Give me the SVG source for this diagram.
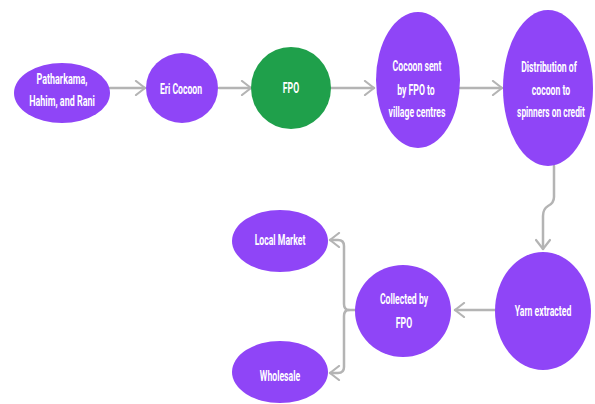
<svg xmlns="http://www.w3.org/2000/svg" width="595" height="404" viewBox="0 0 595 404">
<defs>
<style>
.n{fill:#8f45f7}
.g{fill:#1fa04b}
.t{fill:#ffffff;font-family:"Roboto","Liberation Sans",sans-serif;font-weight:bold;font-size:14px;text-anchor:middle}
.c{fill:none;stroke:#b4b4b4;stroke-width:2.5;stroke-linecap:round;stroke-linejoin:round}
</style>
<marker id="ah" viewBox="0 0 12 16" refX="11" refY="8" markerWidth="12" markerHeight="16" markerUnits="userSpaceOnUse" orient="auto">
<path d="M2,1 L11,8 L2,15" fill="none" stroke="#b4b4b4" stroke-width="2.2" stroke-linecap="round" stroke-linejoin="round"/>
</marker>
</defs>
<rect width="595" height="404" fill="#ffffff"/>
<g id="connectors">
<path class="c" d="M110,88 L145,88" marker-end="url(#ah)"/>
<path class="c" d="M219,88 L251,88" marker-end="url(#ah)"/>
<path class="c" d="M330,88 L374,88" marker-end="url(#ah)"/>
<path class="c" d="M460,88 L502,88" marker-end="url(#ah)"/>
<path class="c" d="M554,166 L554,197 Q554,203 548,206 Q543,209 543,216 L543,249" marker-end="url(#ah)"/>
<path class="c" d="M495,310 L455,310" marker-end="url(#ah)"/>
<path class="c" d="M355,310 L349,310 Q344,310 344,304 L344,246 Q344,240 338,240 L330,240" marker-end="url(#ah)"/>
<path class="c" d="M349,310 Q344,310 344,316 L344,367 Q344,373 338,373 L330,373" marker-end="url(#ah)"/>
</g>
<g id="n1"><ellipse class="n" cx="62" cy="93" rx="48" ry="30"/><text class="t" transform="matrix(0.64,0,0,1,62,0)" x="0" y="84">Patharkama,</text><text class="t" transform="matrix(0.64,0,0,1,62,0)" x="0" y="106">Hahim, and Rani</text></g>
<g id="n2"><ellipse class="n" cx="182" cy="88" rx="36" ry="35"/><text class="t" transform="matrix(0.62,0,0,1,181,0)" x="0" y="94">Eri Cocoon</text></g>
<g id="n3"><ellipse class="g" cx="291" cy="88" rx="40" ry="41"/><text class="t" transform="matrix(0.62,0,0,1,291,0)" x="0" y="93">FPO</text></g>
<g id="n4"><ellipse class="n" cx="418" cy="80" rx="42" ry="68"/><text class="t" transform="matrix(0.62,0,0,1,417,0)" x="0" y="71">Cocoon sent</text><text class="t" transform="matrix(0.62,0,0,1,416,0)" x="0" y="95">by FPO to</text><text class="t" transform="matrix(0.62,0,0,1,417,0)" x="0" y="117">village centres</text></g>
<g id="n5"><ellipse class="n" cx="548" cy="88" rx="45" ry="78"/><text class="t" transform="matrix(0.62,0,0,1,549,0)" x="0" y="72">Distribution of</text><text class="t" transform="matrix(0.62,0,0,1,551,0)" x="0" y="95">cocoon to</text><text class="t" transform="matrix(0.6,0,0,1,551,0)" x="0" y="117">spinners on credit</text></g>
<g id="n6"><ellipse class="n" cx="543" cy="311" rx="48" ry="59"/><text class="t" transform="matrix(0.62,0,0,1,543,0)" x="0" y="316">Yarn extracted</text></g>
<g id="n7"><ellipse class="n" cx="403" cy="311" rx="48" ry="46"/><text class="t" transform="matrix(0.62,0,0,1,404,0)" x="0" y="304">Collected by</text><text class="t" transform="matrix(0.62,0,0,1,404,0)" x="0" y="328">FPO</text></g>
<g id="n8"><ellipse class="n" cx="280" cy="241" rx="48" ry="31"/><text class="t" transform="matrix(0.62,0,0,1,280,0)" x="0" y="245">Local Market</text></g>
<g id="n9"><ellipse class="n" cx="280" cy="372" rx="48" ry="31"/><text class="t" transform="matrix(0.62,0,0,1,280,0)" x="0" y="381">Wholesale</text></g>
</svg>
